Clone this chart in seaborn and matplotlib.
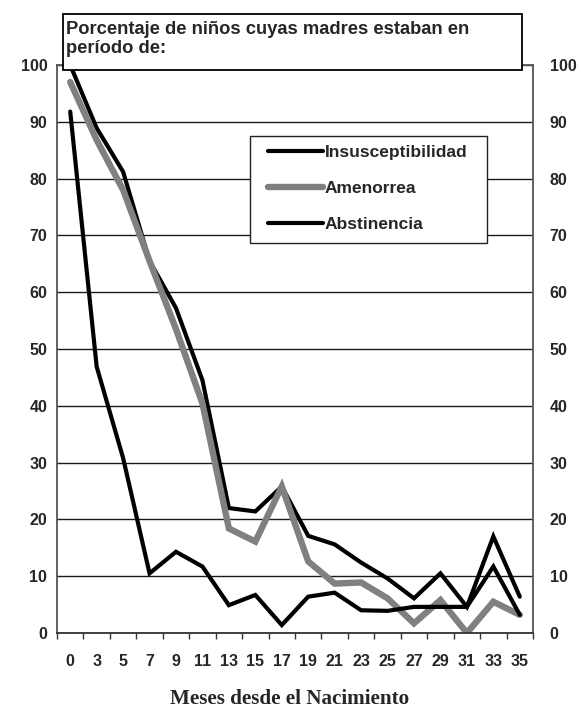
import matplotlib
matplotlib.use("Agg")
import matplotlib.pyplot as plt
from matplotlib.patches import Rectangle
from matplotlib.ticker import FixedLocator
import seaborn as sns
import pandas as pd
import numpy as np

months = ["0", "3", "5", "7", "9", "11", "13", "15", "17", "19", "21", "23",
          "25", "27", "29", "31", "33", "35"]
insusceptibilidad = [100, 88.9, 81.2, 65.5, 57.2, 44.5, 22.0, 21.4, 25.8, 17.1,
                     15.6, 12.4, 9.6, 6.1, 10.5, 4.6, 17.0, 6.4]
amenorrea = [97.0, 86.8, 78.0, 65.5, 53.5, 40.4, 18.4, 16.1, 25.8, 12.6,
             8.7, 8.9, 6.1, 1.7, 5.8, 0.0, 5.5, 3.2]
abstinencia = [91.8, 46.9, 30.8, 10.5, 14.3, 11.7, 4.9, 6.7, 1.4, 6.4,
               7.1, 4.0, 3.9, 4.6, 4.6, 4.6, 11.7, 3.2]
series_names = ["Insusceptibilidad", "Amenorrea", "Abstinencia"]
yticks = [0, 10, 20, 30, 40, 50, 60, 70, 80, 90, 100]
title = "Porcentaje de niños cuyas madres estaban en\nperíodo de:"
xlabel = "Meses desde el Nacimiento"

df = pd.DataFrame({
    "mes": months * 3,
    "valor": insusceptibilidad + amenorrea + abstinencia,
    "serie": [s for s in series_names for _ in months],
})

sns.set_style("white")
plt.rcParams["font.family"] = ["Liberation Sans", "DejaVu Sans"]

fig = plt.figure(figsize=(5.81, 7.12), dpi=100)
ax = fig.add_axes([57 / 581, 1 - 633 / 712, 476 / 581, 568 / 712])

styles = {
    "Insusceptibilidad": dict(color="#000000", lw=3.0),
    "Amenorrea": dict(color="#808080", lw=4.6),
    "Abstinencia": dict(color="#000000", lw=3.0),
}
for name in series_names:
    sub = df[df["serie"] == name]
    sns.lineplot(data=sub, x="mes", y="valor", ax=ax, color=styles[name]["color"],
                 linewidth=styles[name]["lw"], label=name, sort=False,
                 solid_joinstyle="miter", solid_capstyle="round")

ax.set_xlim(-0.5, len(months) - 0.5)
ax.set_ylim(0, 100)
ax.set_yticks(yticks)
ax.set_yticklabels([str(v) for v in yticks], fontweight="bold")
ax.yaxis.grid(True, color="#1a1a1a", lw=1.0)
ax.xaxis.grid(False)
ax.set_axisbelow(True)

ax.set_xticks(range(len(months)))
ax.set_xticklabels(months, fontweight="bold")
ax.xaxis.set_minor_locator(FixedLocator(np.arange(-0.5, len(months), 1.0)))
ax.tick_params(axis="x", which="major", length=0, pad=15, labelsize=11.5)
ax.tick_params(axis="x", which="minor", length=4, width=1, color="#333333",
               direction="out", bottom=True)
ax.tick_params(axis="y", which="both", length=0, labelsize=11.5, pad=7)

# right-hand labels
ax2 = ax.twinx()
ax2.set_ylim(0, 100)
ax2.set_yticks(yticks)
ax2.set_yticklabels([str(v) for v in yticks], fontweight="bold")
ax2.tick_params(axis="y", length=0, labelsize=11.5, pad=12)
ax2.grid(False)
for sp in ax2.spines.values():
    sp.set_visible(False)

for side, sp in ax.spines.items():
    sp.set_visible(True)
    sp.set_color("#555555")
    sp.set_linewidth(1.3)
ax.spines["bottom"].set_color("#333333")

ax.set_xlabel("")
ax.set_ylabel("")

# legend frame + legend
fig.patches.append(Rectangle((250 / 581, 1 - 243 / 712), (487 - 250) / 581,
                             (243 - 136) / 712, transform=fig.transFigure,
                             facecolor="white", edgecolor="#222222", lw=1.0, zorder=4))
handles, labels = ax.get_legend_handles_labels()
if ax.get_legend():
    ax.get_legend().remove()
leg = fig.legend(handles, labels, loc="upper left",
                 bbox_to_anchor=(268 / 581, 1 - 145 / 712),
                 bbox_transform=fig.transFigure, frameon=False,
                 handlelength=3.15, handletextpad=0.1, labelspacing=1.2,
                 borderpad=0, borderaxespad=0,
                 prop={"weight": "bold", "size": 12.5})
leg.set_zorder(5)

# title box
fig.patches.append(Rectangle((62.5 / 581, 1 - 69.5 / 712), (521.7 - 62.5) / 581,
                             (69.5 - 13.5) / 712, transform=fig.transFigure,
                             facecolor="white", edgecolor="black", lw=1.3, zorder=5))
fig.text(66 / 581, 1 - 21.5 / 712, title, ha="left", va="top", fontsize=13.2,
         fontweight="bold", linespacing=1.12, zorder=6)

fig.text(290 / 581, 1 - 699 / 712, xlabel, ha="center", va="center",
         fontsize=15.2, fontweight="bold", family=["Liberation Serif", "DejaVu Serif"])

fig.savefig("out.png", dpi=100)
